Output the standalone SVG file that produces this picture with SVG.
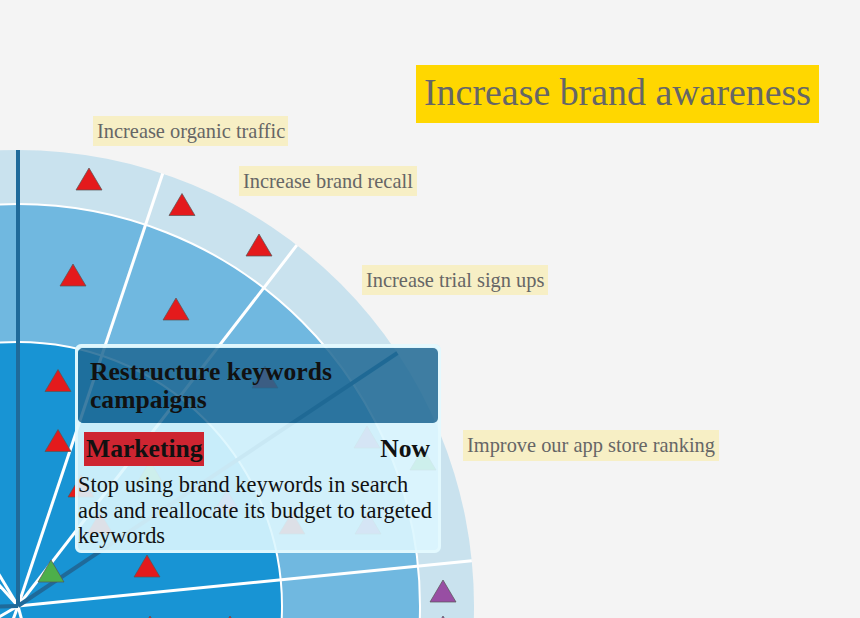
<svg xmlns="http://www.w3.org/2000/svg" xmlns:xlink="http://www.w3.org/1999/xlink" width="860" height="618" viewBox="0 0 860 618">
<style>
  .ring { stroke: #ffffff; stroke-width: 2; }
  .outer { stroke: none; }
  .ray { stroke: #ffffff; stroke-width: 3; }
  .axis { stroke: #1f6a9a; stroke-width: 4; }
  .tri { stroke: #555555; stroke-opacity: 0.7; stroke-width: 1; }
  .red { fill: #e41a1c; }
  .green { fill: #4daf4a; }
  .purple { fill: #984ea3; }
  .lbl-bg { fill: #f7efc5; }
  .lbl { font-family: "Liberation Serif", "Times New Roman", serif; font-size: 20.4px; fill: #666666; }
  .ttl { font-family: "Liberation Serif", "Times New Roman", serif; font-size: 25.6px; font-weight: bold; fill: #111111; }
  .body { font-family: "Liberation Serif", "Times New Roman", serif; font-size: 22.4px; fill: #111111; }
</style>
<defs>
  <path id="tri" d="M0,-11 L13,11 L-13,11 Z"/>
</defs>
<rect width="860" height="618" fill="#f4f4f4"/>

<g id="radar">
  <circle class="outer" cx="18" cy="606" r="456" fill="#c9e2ee"/>
  <circle class="ring" cx="18" cy="606" r="402" fill="#70b8e0"/>
  <circle class="ring" cx="18" cy="606" r="264" fill="#1894d4"/>
</g>

<g id="connectors">
  <line class="ray" x1="18" y1="606" x2="162.7" y2="173.6"/>
  <line class="ray" x1="18" y1="606" x2="296.8" y2="245.2"/>
  <line class="ray" x1="18" y1="606" x2="471.8" y2="560.7"/>
  <line class="ray" x1="18" y1="606" x2="-217" y2="215"/>
  <line class="ray" x1="18" y1="606" x2="-287" y2="267"/>
  <line class="ray" x1="18" y1="606" x2="-377" y2="834"/>
  <line class="ray" x1="18" y1="606" x2="-138" y2="1034"/>
  <line class="ray" x1="18" y1="606" x2="136" y2="1046"/>
  <line class="axis" x1="18" y1="606" x2="18" y2="150"/>
  <line class="axis" x1="18" y1="606" x2="397.4" y2="353"/>
  <line class="axis" x1="18" y1="606" x2="-438" y2="618"/>
</g>

<g id="initiatives">
  <use xlink:href="#tri" class="tri red" x="89" y="179"/>
  <use xlink:href="#tri" class="tri red" x="182" y="204.5"/>
  <use xlink:href="#tri" class="tri red" x="259" y="245"/>
  <use xlink:href="#tri" class="tri red" x="73" y="275"/>
  <use xlink:href="#tri" class="tri red" x="176" y="309"/>
  <use xlink:href="#tri" class="tri red" x="58" y="380.5"/>
  <use xlink:href="#tri" class="tri red" x="58" y="440.5"/>
  <use xlink:href="#tri" class="tri red" x="81" y="486"/>
  <use xlink:href="#tri" class="tri red" x="147" y="566"/>
  <use xlink:href="#tri" class="tri red" x="265" y="377"/>
  <use xlink:href="#tri" class="tri red" x="292" y="523"/>
  <use xlink:href="#tri" class="tri red" x="100" y="523"/>
  <use xlink:href="#tri" class="tri purple" x="443" y="591"/>
  <use xlink:href="#tri" class="tri purple" x="367" y="437"/>
  <use xlink:href="#tri" class="tri purple" x="368" y="523"/>
  <use xlink:href="#tri" class="tri purple" x="227" y="501"/>
  <use xlink:href="#tri" class="tri green" x="51" y="571"/>
  <use xlink:href="#tri" class="tri green" x="423" y="459"/>
  <use xlink:href="#tri" class="tri green" x="150" y="472"/>
  <use xlink:href="#tri" class="tri red" x="150" y="627"/>
  <use xlink:href="#tri" class="tri red" x="230" y="627"/>
  <use xlink:href="#tri" class="tri purple" x="443" y="627"/>
</g>

<g id="title">
  <rect x="416" y="65" width="403" height="58" fill="#ffd700"/>
  <text x="424" y="105" font-family="Liberation Serif, Times New Roman, serif" font-size="37.9" fill="#666666">Increase brand awareness</text>
</g>

<g id="goal-organic">
  <rect class="lbl-bg" x="93" y="116" width="195" height="30"/>
  <text class="lbl" x="97" y="137.5">Increase organic traffic</text>
</g>
<g id="goal-recall">
  <rect class="lbl-bg" x="239" y="166" width="178" height="30"/>
  <text class="lbl" x="243" y="187.5">Increase brand recall</text>
</g>
<g id="goal-trial">
  <rect class="lbl-bg" x="362" y="265" width="186" height="30"/>
  <text class="lbl" x="366" y="286.5">Increase trial sign ups</text>
</g>
<g id="goal-appstore">
  <rect class="lbl-bg" x="463" y="430" width="256" height="31"/>
  <text class="lbl" x="467" y="452">Improve our app store ranking</text>
</g>

<g id="tooltip">
  <path fill="#dcf6fe" fill-opacity="0.9" fill-rule="evenodd" d="M81,344 H435 A6,6 0 0 1 441,350 V547 A6,6 0 0 1 435,553 H81 A6,6 0 0 1 75,547 V350 A6,6 0 0 1 81,344 Z M83,348 H433 A5,5 0 0 1 438,353 V418 A5,5 0 0 1 433,423 H83 A5,5 0 0 1 78,418 V353 A5,5 0 0 1 83,348 Z"/>
  <rect x="76.5" y="345.5" width="363" height="206" rx="5.5" fill="none" stroke="#eafbff" stroke-opacity="0.6" stroke-width="3"/>
  <rect x="78" y="348" width="360" height="75" rx="5" fill="#206994" fill-opacity="0.86"/>
  <text class="ttl" x="90" y="380">Restructure keywords</text>
  <text class="ttl" x="90" y="408">campaigns</text>
  <rect x="84" y="432" width="120" height="34" fill="#ce2531"/>
  <text class="ttl" x="86" y="457">Marketing</text>
  <text class="ttl" x="430" y="457" text-anchor="end">Now</text>
  <text class="body" x="78" y="492">Stop using brand keywords in search</text>
  <text class="body" x="78" y="518">ads and reallocate its budget to targeted</text>
  <text class="body" x="78" y="543">keywords</text>
</g>
</svg>
